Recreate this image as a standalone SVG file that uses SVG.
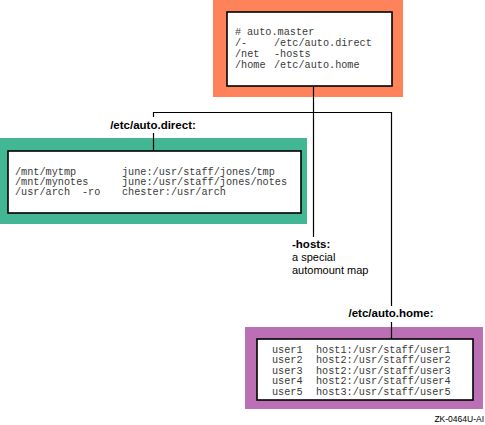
<svg xmlns="http://www.w3.org/2000/svg" width="485" height="425" viewBox="0 0 485 425">
<style>
.frame-o{fill:#ff835a}
.frame-t{fill:#43b694}
.frame-p{fill:#bb6fb4}
.inner{fill:#fff;stroke:#000;stroke-width:1.6}
.mono{font-family:"Liberation Mono","DejaVu Sans Mono",monospace;font-size:10.2px;fill:#3a3a3a}
.lbl{font-family:"Liberation Sans",Arial,sans-serif;font-size:11.5px;font-weight:bold;fill:#000}
.txt{font-family:"Liberation Sans",Arial,sans-serif;font-size:11px;fill:#000}
.conn{fill:none;stroke:#000;stroke-width:1.2}
</style>
<rect width="485" height="425" fill="#fff"/>
<g id="auto-master">
<rect class="frame-o" x="213" y="0" width="190" height="97"/>
<rect class="inner" x="227" y="12" width="165" height="74"/>
<text class="mono"><tspan x="235" y="35">#</tspan><tspan x="247" y="35">auto.master</tspan></text>
<text class="mono"><tspan x="235" y="46">/-</tspan><tspan x="274" y="46">/etc/auto.direct</tspan></text>
<text class="mono"><tspan x="235" y="57">/net</tspan><tspan x="274" y="57">-hosts</tspan></text>
<text class="mono"><tspan x="235" y="68">/home</tspan><tspan x="274" y="68">/etc/auto.home</tspan></text>
</g>
<g id="auto-direct">
<rect class="frame-t" x="0" y="138" width="307" height="86"/>
<rect class="inner" x="8" y="151" width="293" height="62"/>
<text class="lbl" x="153" y="129" text-anchor="middle">/etc/auto.direct:</text>
<text class="mono"><tspan x="15" y="175">/mnt/mytmp</tspan><tspan x="122" y="175">june:/usr/staff/jones/tmp</tspan></text>
<text class="mono"><tspan x="15" y="185">/mnt/mynotes</tspan><tspan x="122" y="185">june:/usr/staff/jones/notes</tspan></text>
<text class="mono"><tspan x="15" y="195">/usr/arch</tspan><tspan x="82" y="195">-ro</tspan><tspan x="122" y="195">chester:/usr/arch</tspan></text>
</g>
<g id="hosts">
<text class="lbl" x="292" y="248">-hosts:</text>
<text class="txt" x="292" y="261">a special</text>
<text class="txt" x="292" y="274">automount map</text>
</g>
<g id="auto-home">
<rect class="frame-p" x="245" y="327" width="238" height="82"/>
<rect class="inner" x="257" y="339" width="216" height="61"/>
<text class="lbl" x="391" y="317" text-anchor="middle">/etc/auto.home:</text>
<text class="mono"><tspan x="272" y="352.5">user1</tspan><tspan x="316" y="352.5">host1:/usr/staff/user1</tspan></text>
<text class="mono"><tspan x="272" y="363">user2</tspan><tspan x="316" y="363">host2:/usr/staff/user2</tspan></text>
<text class="mono"><tspan x="272" y="373.5">user3</tspan><tspan x="316" y="373.5">host2:/usr/staff/user3</tspan></text>
<text class="mono"><tspan x="272" y="384">user4</tspan><tspan x="316" y="384">host2:/usr/staff/user4</tspan></text>
<text class="mono"><tspan x="272" y="394.5">user5</tspan><tspan x="316" y="394.5">host3:/usr/staff/user5</tspan></text>
</g>
<g id="connectors">
<path class="conn" d="M313.5 86 V237"/>
<path class="conn" d="M153.5 117 V112.5 H391.5 V306"/>
<path class="conn" d="M153.5 133 V151"/>
<path class="conn" d="M391.5 322 V339"/>
</g>
<text x="484" y="422" text-anchor="end" font-family="Liberation Sans, Arial, sans-serif" font-size="8.5" fill="#000">ZK-0464U-AI</text>
</svg>
